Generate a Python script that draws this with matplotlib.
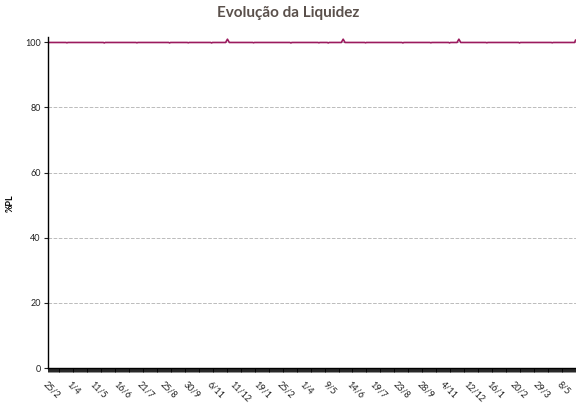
import numpy as np
import matplotlib
matplotlib.use("Agg")
import matplotlib.pyplot as plt

# number of daily observations on the x axis
n_points = 566

# tick labels, one every 25 observations
tick_labels = ["25/2", "1/4", "11/5", "16/6", "21/7", "25/8", "30/9", "6/11",
               "11/12", "19/1", "25/2", "1/4", "9/5", "14/6", "19/7", "23/8",
               "28/9", "4/11", "12/12", "16/1", "20/2", "29/3", "8/5"]
tick_step = 25

# liquidity level (%PL): flat near 100 with a few small bumps
base_level = 99.9
bump_index = [191, 192, 193, 315, 316, 317, 439, 440, 441, 565]
bump_value = [100.4, 100.9, 100.4, 100.4, 100.9, 100.4, 100.4, 100.9, 100.4, 100.6]
dip_index = [20, 60, 95, 130, 150, 175, 220, 260, 290, 300, 340, 380, 410, 430, 470, 505, 540]
dip_value = [99.8, 99.75, 99.8, 99.75, 99.8, 99.75, 99.8, 99.75, 99.8, 99.75,
             99.8, 99.75, 99.8, 99.75, 99.8, 99.75, 99.8]

values = [base_level] * n_points
for i, v in zip(bump_index, bump_value):
    values[i] = v
for i, v in zip(dip_index, dip_value):
    values[i] = v

plt.rcParams['font.family'] = ['Lato', 'DejaVu Sans']

fig = plt.figure(figsize=(5.76, 4.05), dpi=100)
ax = fig.add_axes([0.083, 0.091, 0.917, 0.817])

x = np.arange(n_points)
ax.plot(x, values, color="#9B1A5E", linewidth=1.2, solid_joinstyle='round')

ax.set_xlim(-0.5, n_points - 0.5)
ax.set_ylim(0, 101.5)
ax.set_yticks([0, 20, 40, 60, 80, 100])
ax.tick_params(axis='y', labelsize=6.5, length=3, width=0.8, colors='#222222', pad=2)
ax.yaxis.grid(True, linestyle='--', color='#BBBBBB', linewidth=0.7)
ax.set_axisbelow(True)

# every observation gets a tick, labels only every 25
ax.set_xticks(x, minor=True)
ax.set_xticks(np.arange(len(tick_labels)) * tick_step)
ax.set_xticklabels(tick_labels, rotation=-45, ha='left', va='top',
                   rotation_mode='anchor', fontsize=6.5, color='#222222')
ax.tick_params(axis='x', which='both', length=3, width=0.6, color='black', pad=5)

for side in ['top', 'right']:
    ax.spines[side].set_visible(False)
ax.spines['left'].set_color('black')
ax.spines['bottom'].set_color('black')
ax.spines['left'].set_linewidth(1.0)
ax.spines['bottom'].set_linewidth(1.0)

ax.set_ylabel("%PL", fontsize=6.5, fontweight='bold')
ax.yaxis.set_label_coords(-0.062, 0.5)
fig.suptitle("Evolução da Liquidez", fontsize=11, fontweight='bold',
             color='#5A504B', y=0.985)

fig.savefig("out.png", dpi=100)
